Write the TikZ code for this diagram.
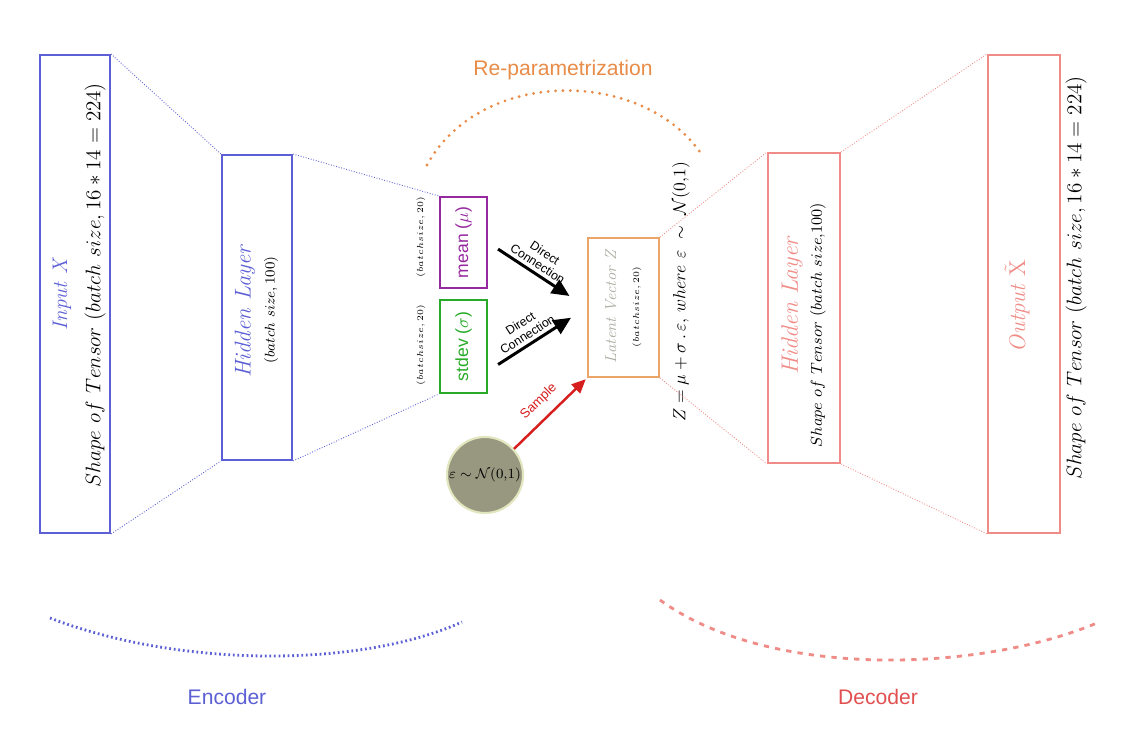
\documentclass[tikz,border=0pt]{standalone}
\usepackage{fontspec}
\newfontfamily\sansf{Liberation Sans}
\usetikzlibrary{arrows.meta,calc}
\definecolor{blueC}{RGB}{92,96,212}
\definecolor{purpleC}{RGB}{150,40,160}
\definecolor{greenC}{RGB}{40,170,40}
\definecolor{orangeC}{RGB}{236,165,105}
\definecolor{orangeT}{RGB}{232,140,72}
\definecolor{salmonC}{RGB}{240,140,135}
\definecolor{redC}{RGB}{215,30,30}
\definecolor{decC}{RGB}{225,80,80}
\definecolor{epsFill}{RGB}{152,152,128}
\definecolor{epsLine}{RGB}{225,230,190}
\definecolor{latGray}{RGB}{175,175,165}
\begin{document}
\begin{tikzpicture}[x=0.02cm,y=-0.02cm,
  box/.style={draw, line width=1.15pt, inner sep=0pt, minimum width=#1},
  vtext/.style={rotate=90, inner sep=0pt},
  link/.style={densely dotted, line width=0.5pt},
  bigarrow/.style={line width=1.7pt, -{Triangle[length=10pt,width=9pt]}},
  arrlabel/.style={sloped, align=center, inner sep=0.5pt, font=\sansf\fontsize{7}{7.5}\selectfont},
]
\useasboundingbox (0,0) rectangle (1140,732);
\fill[white] (0,0) rectangle (1140,732);

% boxes
\node[box=1.4cm, draw=blueC, minimum height=9.56cm] (inp) at (75,294) {};
\node[box=1.4cm, draw=blueC, minimum height=6.1cm] (hid) at (257,307.5) {};
\node[box=0.94cm, draw=purpleC, minimum height=1.82cm] (mean) at (463.5,242.5) {};
\node[box=0.94cm, draw=greenC, minimum height=1.86cm] (std) at (463.5,346.5) {};
\node[box=1.42cm, draw=orangeC, minimum height=2.78cm] (lat) at (623.5,307.5) {};
\node[box=1.44cm, draw=salmonC, minimum height=6.2cm] (dhid) at (804,308) {};
\node[box=1.44cm, draw=salmonC, minimum height=9.56cm] (out) at (1024,294) {};
\node[circle, fill=epsFill, draw=epsLine, line width=1.2pt, minimum size=1.52cm, inner sep=0pt] (eps) at (485,475) {};

% box texts
\node[vtext, text=blueC] (inpT1) at (62,295) {\fontsize{12}{14}\selectfont\itshape Input X};
\node[vtext] (inpT2) at (95,285) {\fontsize{12.6}{15}\selectfont $Shape\ of\ Tensor\ (batch\ size, 16*14=224)$};
\node[vtext, text=blueC] (hidT1) at (245,312) {\fontsize{13}{15}\selectfont\itshape Hidden Layer};
\node[vtext] (hidT2) at (271,310) {\fontsize{8}{10}\selectfont $(batch\ size, 100)$};
\node[vtext, text=purpleC] (meanT) at (463.5,242.5) {\fontsize{10}{12}\selectfont\sansf mean ($\mu$)};
\node[vtext, text=greenC] (stdT) at (463.5,346.5) {\fontsize{10}{12}\selectfont\sansf stdev ($\sigma$)};
\node[vtext] (bs1) at (421,237) {\fontsize{5}{6}\selectfont $(batchsize, 20)$};
\node[vtext] (bs2) at (421,345) {\fontsize{5}{6}\selectfont $(batchsize, 20)$};
\node[vtext, text=latGray] (latT1) at (611,307) {\fontsize{9}{11}\selectfont\itshape Latent Vector Z};
\node[vtext] (latT2) at (637,307) {\fontsize{5}{6}\selectfont $(batchsize, 20)$};
\node (epsT) at (eps) {\fontsize{8.5}{10}\selectfont $\varepsilon \sim \mathcal{N}(0{,}1)$};
\node[vtext] (formula) at (681,292) {\fontsize{10.3}{12}\selectfont $Z=\mu+\sigma\,.\,\varepsilon,\,where\ \varepsilon\ \sim\ \mathcal{N}(0{,}1)$};
\node[vtext, text=salmonC] (dhidT1) at (792,306) {\fontsize{13.5}{15}\selectfont\itshape Hidden Layer};
\node[vtext] (dhidT2) at (818,325) {\fontsize{9}{11}\selectfont $Shape\ of\ Tensor\ (batch\ size{,}100)$};
\node[vtext, text=salmonC] (outT1) at (1017,306) {\fontsize{13}{15}\selectfont\itshape Output $\tilde{\mathrm{X}}$};
\node[vtext] (outT2) at (1076,278) {\fontsize{12.4}{15}\selectfont $Shape\ of\ Tensor\ (batch\ size, 16*14=224)$};

% dotted links
\draw[link, blueC] (inp.north east) -- (hid.north west);
\draw[link, blueC] (inp.south east) -- (hid.south west);
\draw[link, blueC] (hid.north east) -- (mean.north west);
\draw[link, blueC] (hid.south east) -- (std.south west);
\draw[link, salmonC] (lat.north east) -- (dhid.north west);
\draw[link, salmonC] (lat.south east) -- (dhid.south west);
\draw[link, salmonC] (dhid.north east) -- (out.north west);
\draw[link, salmonC] (dhid.south east) -- (out.south west);

% arrows
\draw[bigarrow, shorten <=0.24cm, shorten >=0.42cm] (mean.east) -- node[arrlabel, above=1.5pt, pos=0.45] (dc1) {Direct\\Connection} (lat.west);
\draw[bigarrow, shorten <=0.24cm, shorten >=0.38cm] (std.-45) -- node[arrlabel, above=1.5pt, pos=0.45] (dc2) {Direct\\Connection} (lat.west);
\draw[line width=1.4pt, redC, -{Triangle[length=8pt,width=7pt]}, shorten >=1pt] (eps.42) -- node[sloped, above=2pt, font=\sansf\fontsize{7.5}{8}\selectfont] (smp) {Sample} (lat.south west);

% arcs and labels
\node[text=orangeT] (rep) at (563,70) {\fontsize{12}{14}\selectfont\sansf Re-parametrization};
\coordinate (ra) at (427,165);
\coordinate (rb) at (700,152);
\draw[orangeT, line width=1.8pt, dash pattern=on 0pt off 4.2pt, line cap=round] (ra) .. controls (480,68) and (640,68) .. (rb);

\node[text=blueC] (enc) at (227,697) {\fontsize{12}{14}\selectfont\sansf Encoder};
\coordinate (ea) at (50,618);
\coordinate (eb) at (462,622);
\draw[blueC, line width=1.6pt, dash pattern=on 1pt off 1.6pt] (ea) .. controls (180,668) and (360,668) .. (eb);

\node[text=decC] (dec) at (878,697) {\fontsize{12}{14}\selectfont\sansf Decoder};
\coordinate (da) at (660,600);
\coordinate (db) at (1097,623);
\draw[salmonC, line width=1.6pt, dash pattern=on 3pt off 3.5pt] (da) .. controls (770,680) and (980,672) .. (db);
\end{tikzpicture}
\end{document}
